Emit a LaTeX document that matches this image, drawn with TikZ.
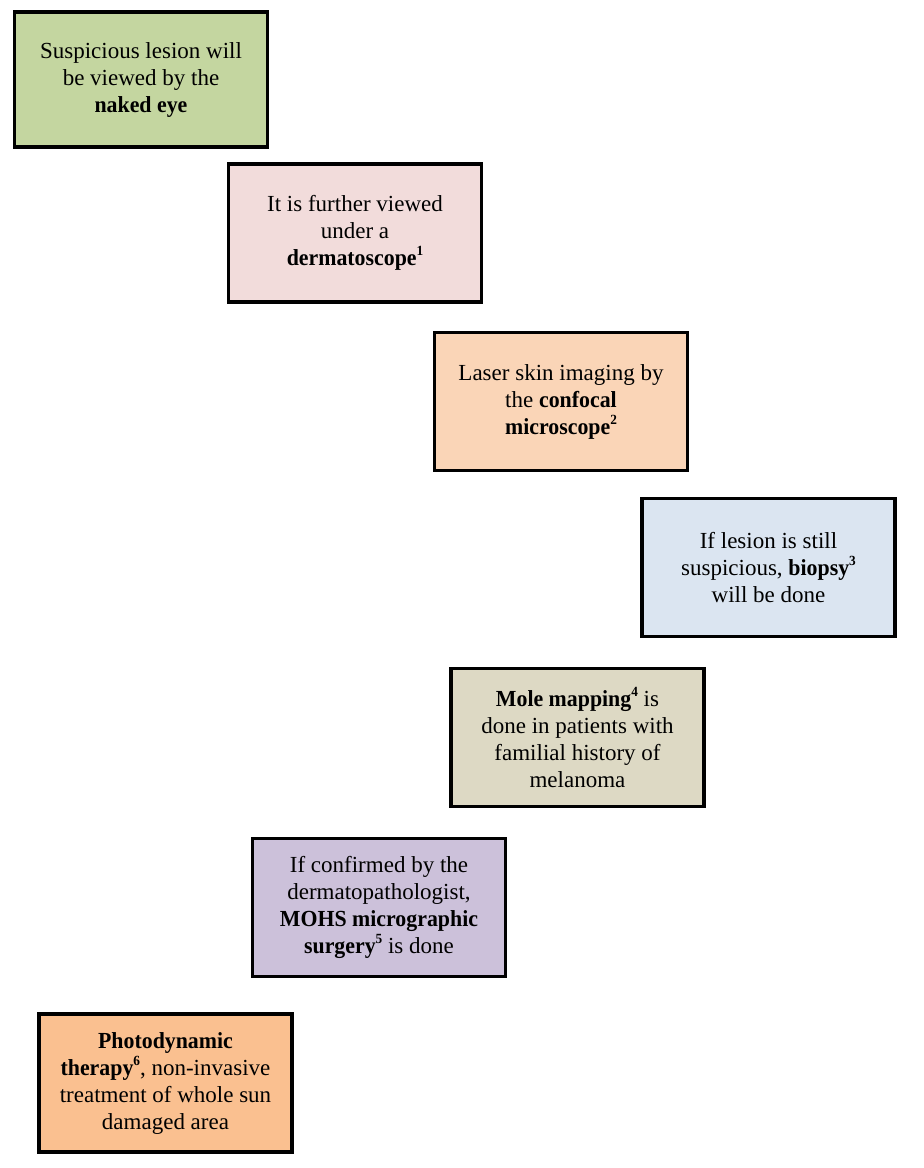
\documentclass[tikz,border=0pt]{standalone}
\usepackage{fontspec}
\setmainfont{Liberation Serif}[BoldFeatures={FakeStretch=0.95}]
\definecolor{cA}{HTML}{C4D6A0}
\definecolor{cB}{HTML}{F2DCDB}
\definecolor{cC}{HTML}{FAD5B7}
\definecolor{cD}{HTML}{DBE5F1}
\definecolor{cE}{HTML}{DDD9C4}
\definecolor{cF}{HTML}{CCC1DA}
\definecolor{cG}{HTML}{FAC090}
\newcommand{\sref}[1]{\raisebox{0.42em}{\fontsize{14pt}{14pt}\selectfont\bfseries #1}}
\tikzset{
  stepbox/.style={draw=black, line width=3.6pt, rectangle, minimum width=253pt, minimum height=138pt,
    align=center, font=\fontsize{23pt}{27pt}\selectfont, inner sep=0pt}
}
\begin{document}
\begin{tikzpicture}[x=1pt,y=-1pt]
\useasboundingbox (0,0) rectangle (924,1168);
\node[stepbox, fill=cA, minimum height=135pt] (n1) at (141,79.5) {Suspicious lesion will\\be viewed by the\\\textbf{naked eye}};
\node[stepbox, fill=cB] (n2) at (355,233) {It is further viewed\\under a\\\textbf{dermatoscope}\sref{1}};
\node[stepbox, fill=cC] (n3) at (561,401.5) {Laser skin imaging by\\the \textbf{confocal}\\\textbf{microscope}\sref{2}};
\node[stepbox, fill=cD] (n4) at (768.5,567.5) {If lesion is still\\suspicious, \textbf{biopsy}\sref{3}\\will be done};
\node[stepbox, fill=cE] (n5) at (577.5,737.5) {\textbf{Mole mapping}\sref{4} is\\done in patients with\\familial history of\\melanoma};
\node[stepbox, fill=cF] (n6) at (379,907.5) {If confirmed by the\\dermatopathologist,\\\textbf{MOHS micrographic}\\\textbf{surgery}\sref{5} is done};
\node[stepbox, fill=cG] (n7) at (165.5,1083) {\textbf{Photodynamic}\\\textbf{therapy}\sref{6}, non-invasive\\treatment of whole sun\\damaged area};
\end{tikzpicture}
\end{document}
